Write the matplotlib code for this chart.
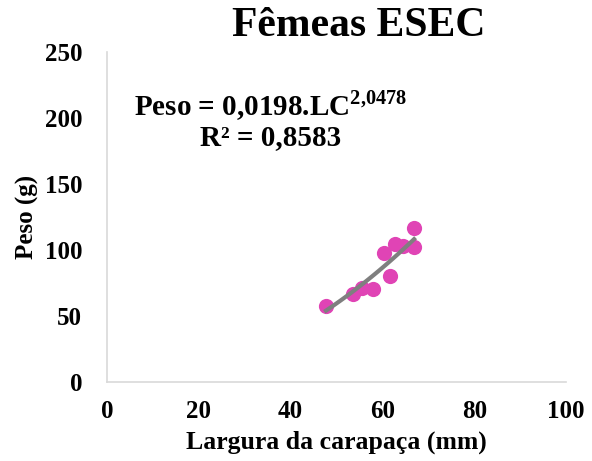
import numpy as np
import matplotlib.pyplot as plt

plt.rcParams['font.family'] = ['Liberation Serif', 'DejaVu Serif']
plt.rcParams['font.weight'] = 'bold'
plt.rcParams['mathtext.fontset'] = 'custom'
plt.rcParams['mathtext.rm'] = 'Liberation Serif:bold'
plt.rcParams['mathtext.bf'] = 'Liberation Serif:bold'

# ---- Data ----
largura = [47.7, 53.5, 55.6, 58.0, 60.3, 61.6, 62.8, 64.5, 66.9, 66.9]
peso    = [57.5, 66.5, 71.0, 70.5, 97.5, 80.5, 105.0, 103.5, 102.5, 116.5]

coef_a = 0.0198
coef_b = 2.0478

x_ticks = [0, 20, 40, 60, 80, 100]
y_ticks = [0, 50, 100, 150, 200, 250]

# ---- Plot ----
fig = plt.figure(figsize=(5.92, 4.61), dpi=100)
ax = fig.add_axes([0.181, 0.171, 0.775, 0.716])

ax.scatter(largura, peso, s=120, color='#E044B5', zorder=3, linewidths=0)

x_fit = np.linspace(min(largura), max(largura), 50)
ax.plot(x_fit, coef_a * x_fit ** coef_b, color='#7f7f7f', linewidth=3, zorder=4)

ax.set_xlim(0, 100)
ax.set_ylim(0, 250)
ax.set_xticks(x_ticks)
ax.set_yticks(y_ticks)
ax.tick_params(axis='x', length=0, labelsize=18, pad=13)
ax.tick_params(axis='y', length=0, labelsize=18, pad=18)
for lbl in ax.get_xticklabels() + ax.get_yticklabels():
    lbl.set_fontweight('bold')

for side in ['top', 'right']:
    ax.spines[side].set_visible(False)
for side in ['left', 'bottom']:
    ax.spines[side].set_color('#d9d9d9')
    ax.spines[side].set_linewidth(1.2)

ax.set_xlabel('Largura da carapaça (mm)', fontsize=18.5, fontweight='bold', labelpad=5)
ax.set_ylabel('Peso (g)', fontsize=18, fontweight='bold', labelpad=4)

fig.text(359 / 592, 1 - 26 / 461, 'Fêmeas ESEC', fontsize=30, fontweight='bold',
         ha='center', va='center')

ax.text(0.357, 0.809, r'Peso = 0,0198.LC$^{\mathrm{2{,}0478}}$', transform=ax.transAxes,
        fontsize=21, fontweight='bold', ha='center', va='baseline')
ax.text(0.357, 0.718, 'R² = 0,8583', transform=ax.transAxes,
        fontsize=21, fontweight='bold', ha='center', va='baseline')

plt.savefig('out.png', dpi=100)
